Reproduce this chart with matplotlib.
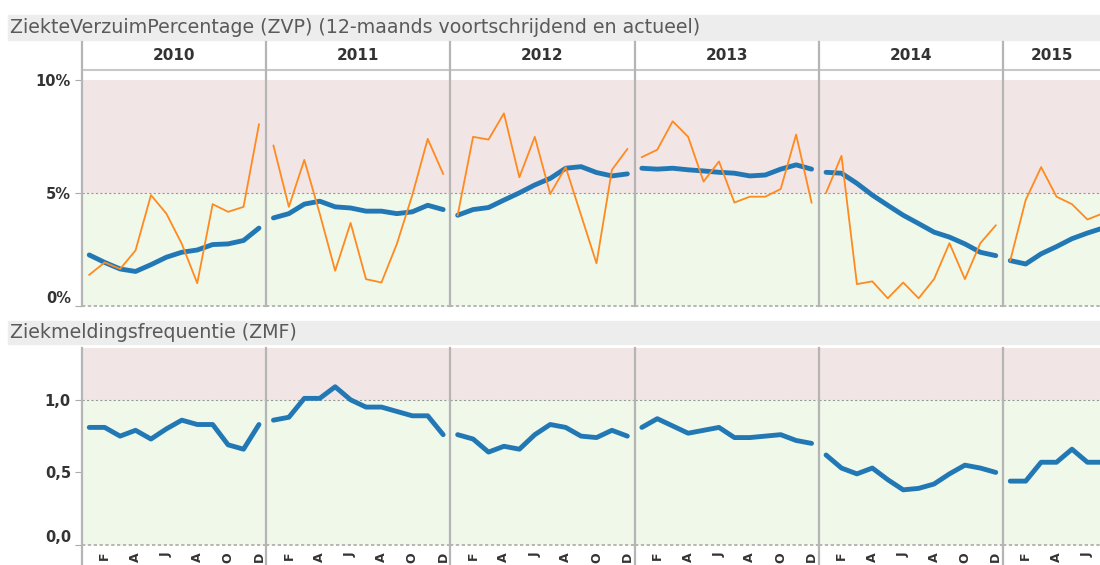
import matplotlib
matplotlib.use('Agg')
import matplotlib.pyplot as plt
from matplotlib.lines import Line2D
from matplotlib.patches import Rectangle

plt.rcParams['font.family'] = ['DejaVu Sans']

years = [2010, 2011, 2012, 2013, 2014, 2015]
month_ticks = [2, 4, 6, 8, 10, 12]
month_labels = ['F', 'A', 'J', 'A', 'O', 'D']

# ZVP 12-maands voortschrijdend (%), jan..dec per jaar, 2015 t/m juli
zvp_12m = [
    2.26, 1.93, 1.64, 1.53, 1.83, 2.16, 2.38, 2.48, 2.72, 2.75, 2.90, 3.45,
    3.90, 4.09, 4.51, 4.64, 4.39, 4.34, 4.20, 4.20, 4.09, 4.17, 4.46, 4.27,
    4.02, 4.27, 4.36, 4.69, 5.01, 5.36, 5.65, 6.10, 6.17, 5.91, 5.76, 5.85,
    6.10, 6.06, 6.10, 6.03, 5.98, 5.92, 5.88, 5.76, 5.80, 6.06, 6.25, 6.06,
    5.92, 5.88, 5.43, 4.91, 4.46, 4.02, 3.65, 3.27, 3.05, 2.75, 2.38, 2.23,
    2.01, 1.86, 2.31, 2.63, 2.98, 3.23, 3.45,
]
# ZVP actueel (%)
zvp_actual = [
    1.38, 1.93, 1.64, 2.46, 4.91, 4.09, 2.75, 1.01, 4.51, 4.17, 4.39, 8.04,
    7.10, 4.39, 6.47, 4.09, 1.56, 3.68, 1.19, 1.04, 2.75, 4.91, 7.40, 5.85,
    4.02, 7.49, 7.37, 8.53, 5.70, 7.49, 4.96, 6.15, 4.02, 1.89, 6.03, 6.95,
    6.59, 6.92, 8.18, 7.49, 5.51, 6.40, 4.58, 4.84, 4.84, 5.18, 7.59, 4.58,
    5.01, 6.65, 0.97, 1.09, 0.34, 1.04, 0.34, 1.19, 2.78, 1.19, 2.78, 3.57,
    2.01, 4.69, 6.15, 4.84, 4.51, 3.83, 4.10,
]
# ZMF
zmf_12m = [
    0.81, 0.81, 0.75, 0.79, 0.73, 0.80, 0.86, 0.83, 0.83, 0.69, 0.66, 0.83,
    0.86, 0.88, 1.01, 1.01, 1.09, 1.00, 0.95, 0.95, 0.92, 0.89, 0.89, 0.76,
    0.76, 0.73, 0.64, 0.68, 0.66, 0.76, 0.83, 0.81, 0.75, 0.74, 0.79, 0.75,
    0.81, 0.87, 0.82, 0.77, 0.79, 0.81, 0.74, 0.74, 0.75, 0.76, 0.72, 0.70,
    0.62, 0.53, 0.49, 0.53, 0.45, 0.38, 0.39, 0.42, 0.49, 0.55, 0.53, 0.50,
    0.44, 0.44, 0.57, 0.57, 0.66, 0.57, 0.57,
]

W, H = 1100, 565
BLUE = '#2278b5'
ORANGE = '#ff8a1f'
PINK = '#f2e5e5'
GREEN = '#eff8e9'
SEP = '#b5b5b5'


def fx(px):
    return px / W


def fy(py):
    return 1 - py / H


fig = plt.figure(figsize=(11, 5.65), dpi=100)

# title bands
for y0, y1, txt in [(15, 40, 'ZiekteVerzuimPercentage (ZVP) (12-maands voortschrijdend en actueel)'),
                    (321, 344, 'Ziekmeldingsfrequentie (ZMF)')]:
    fig.patches.append(Rectangle((fx(8), fy(y1)), fx(W - 8), (y1 - y0) / H,
                                 transform=fig.transFigure, color='#ededed', zorder=0))
    fig.text(fx(10), fy((y0 + y1) / 2), txt, fontsize=13.7, color='#5a5a5a', va='center', ha='left')

left = 82
full_w = 184.2
month_px = full_w / 11.94
top_top, top_bot = 70, 306
bot_top, bot_bot = 348, 545

x0 = left
for i, yr in enumerate(years):
    n = 12 if yr != 2015 else 7
    s = i * 12
    if yr == 2015:
        w = W - x0
    else:
        w = full_w
    xmax = 0.53 + w / month_px
    months = list(range(1, n + 1))

    ax1 = fig.add_axes([fx(x0), fy(top_bot), w / W, (top_bot - top_top) / H])
    ax1.set_xlim(0.53, xmax)
    ax1.set_ylim(0, 10.45)
    ax1.axhspan(5, 10, color=PINK, lw=0, zorder=0)
    ax1.axhspan(0, 5, color=GREEN, lw=0, zorder=0)
    ax1.axhline(5, color='#999999', lw=0.8, ls=(0, (2, 2)), zorder=1)
    ax1.axhline(0, color='#aaaaaa', lw=1.2, ls=(0, (2, 1.5)), zorder=1, clip_on=False)
    ax1.plot(months, zvp_12m[s:s + n], color=BLUE, lw=3.5, solid_capstyle='round', zorder=3)
    ax1.plot(months, zvp_actual[s:s + n], color=ORANGE, lw=1.3, zorder=4)

    ax2 = fig.add_axes([fx(x0), fy(bot_bot), w / W, (bot_bot - bot_top) / H])
    ax2.set_xlim(0.53, xmax)
    ax2.set_ylim(0, 1.357)
    ax2.axhspan(1, 1.357, color=PINK, lw=0, zorder=0)
    ax2.axhspan(0, 1, color=GREEN, lw=0, zorder=0)
    ax2.axhline(1, color='#999999', lw=0.8, ls=(0, (2, 2)), zorder=1)
    ax2.axhline(0, color='#aaaaaa', lw=1.2, ls=(0, (2, 1.5)), zorder=1, clip_on=False)
    ax2.plot(months, zmf_12m[s:s + n], color=BLUE, lw=3.5, solid_capstyle='round', zorder=3)

    for ax in (ax1, ax2):
        for sp in ax.spines.values():
            sp.set_visible(False)
        ax.set_xticks([])
        ax.set_yticks([])

    ticks = [m for m in month_ticks if m <= xmax]
    ax2.set_xticks(ticks)
    ax2.set_xticklabels(month_labels[:len(ticks)], rotation=90, fontsize=9,
                        fontweight='bold', color='#333333')
    ax2.tick_params(axis='x', length=0, pad=5)

    if i == 0:
        ax1.set_yticks([0, 5, 10])
        ax1.set_yticklabels(['0%', '5%', '10%'], fontsize=10.5, fontweight='bold', color='#333333')
        ax2.set_yticks([0, 0.5, 1.0])
        ax2.set_yticklabels(['0,0', '0,5', '1,0'], fontsize=10.5, fontweight='bold', color='#333333')
        for ax in (ax1, ax2):
            ax.tick_params(axis='y', length=5, width=0.8, color='#aaaaaa', pad=3)
            ax.get_yticklabels()[0].set_va('bottom')

    # year header
    fig.text(fx(x0 + w / 2), fy(56), str(yr), fontsize=11, fontweight='bold',
             color='#333333', ha='center', va='center')

    # separator lines
    fig.lines.append(Line2D([fx(x0)] * 2, [fy(42), fy(top_bot)], transform=fig.transFigure,
                            color=SEP, lw=1.6, zorder=5))
    fig.lines.append(Line2D([fx(x0)] * 2, [fy(bot_top), fy(H)], transform=fig.transFigure,
                            color=SEP, lw=1.6, zorder=5))
    x0 += w

# header line
fig.lines.append(Line2D([fx(left), 1], [fy(70), fy(70)], transform=fig.transFigure,
                        color='#c8c8c8', lw=1.5))

fig.savefig('out.png', dpi=100)
